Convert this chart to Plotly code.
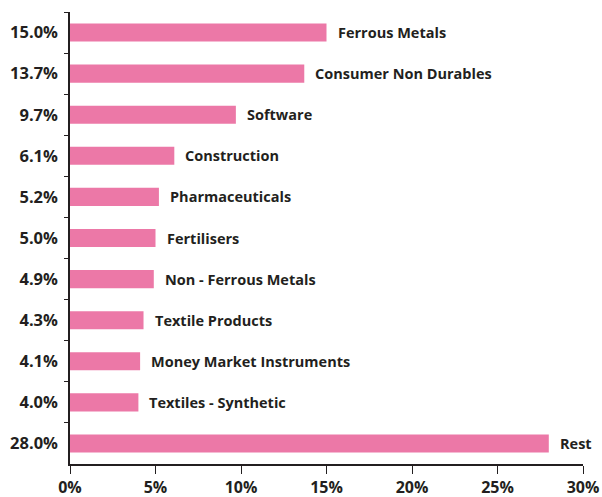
import plotly.graph_objects as go

sectors = ["Ferrous Metals", "Consumer Non Durables", "Software", "Construction",
           "Pharmaceuticals", "Fertilisers", "Non - Ferrous Metals", "Textile Products",
           "Money Market Instruments", "Textiles - Synthetic", "Rest"]
weights = [15.0, 13.7, 9.7, 6.1, 5.2, 5.0, 4.9, 4.3, 4.1, 4.0, 28.0]
x_ticks = [0, 5, 10, 15, 20, 25, 30]

bar_color = "#EC78A7"
text_color = "#231F20"
font_family = "Open Sans, Noto Sans, sans-serif"

# percentage labels double as the category axis
pct_labels = [f"{w:.1f}%" for w in weights]

fig = go.Figure()
fig.add_trace(go.Bar(
    x=weights,
    y=pct_labels,
    orientation="h",
    marker_color=bar_color,
    marker_line_width=0,
    width=0.44,
    customdata=sectors,
    hovertemplate="%{customdata}: %{x}%<extra></extra>",
))

for s, w, p in zip(sectors, weights, pct_labels):
    fig.add_annotation(x=w, y=p, text=f"<b>{s}</b>", showarrow=False,
                       xanchor="left", xshift=9,
                       font=dict(size=14.5, color=text_color, family=font_family))

fig.update_layout(
    width=602, height=497,
    margin=dict(l=70, r=19, t=12, b=33),
    plot_bgcolor="white",
    paper_bgcolor="white",
    showlegend=False,
    xaxis=dict(
        range=[0, 30],
        tickvals=x_ticks,
        ticktext=[f"<b>{t}%</b>" for t in x_ticks],
        showgrid=False,
        zeroline=False,
        showline=True,
        linecolor="#231F20",
        linewidth=1.5,
        ticks="outside",
        ticklen=8,
        tickcolor="#231F20",
        tickwidth=1.2,
        tickfont=dict(size=16, color=text_color, family=font_family),
        automargin=False,
    ),
    yaxis=dict(
        autorange="reversed",
        type="category",
        tickson="boundaries",
        tickprefix="<b>",
        ticksuffix="</b>",
        showgrid=False,
        zeroline=False,
        showline=True,
        linecolor="#231F20",
        linewidth=1.5,
        ticks="outside",
        ticklen=4,
        tickcolor="#231F20",
        tickwidth=1.2,
        tickfont=dict(size=16.5, color=text_color, family=font_family),
        ticklabelstandoff=7,
        automargin=False,
    ),
)

# drop the browser's default body margin so the figure sits at the page corner
fig.write_html("out.html", config={"displayModeBar": False},
               post_script="document.body.style.margin='0';")
